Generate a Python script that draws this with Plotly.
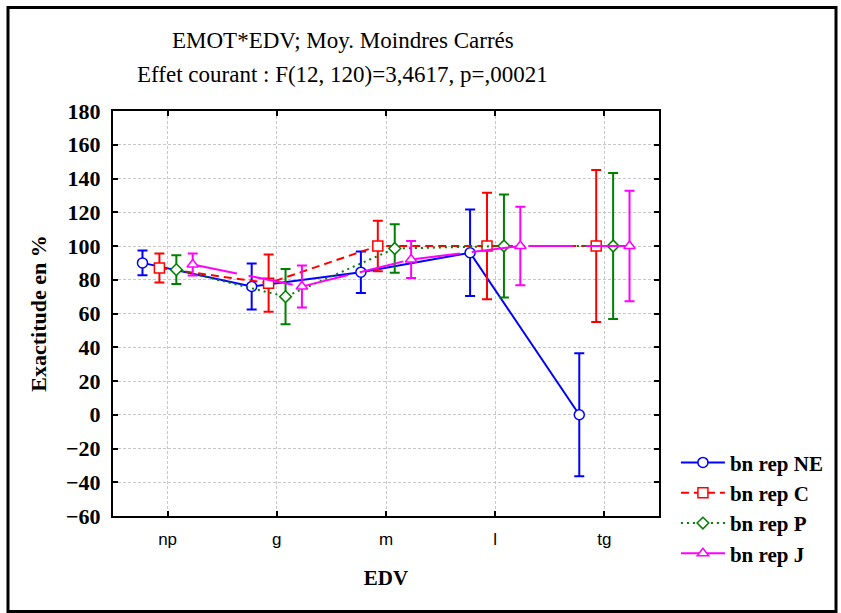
import plotly.graph_objects as go

categories = ["np", "g", "m", "l", "tg"]
series_names = ["bn rep NE", "bn rep C", "bn rep P", "bn rep J"]

ne_mean = [90, 76, 84.5, 96, 0]
ne_err = [7.3, 13.7, 12.3, 25.7, 36.5]
c_mean = [87, 78, 100, 100, 100]
c_err = [8.6, 17, 15, 31.6, 45]
p_mean = [86, 70, 98.5, 100, 100]
p_err = [8.5, 16.3, 14.4, 30.5, 43.3]
j_mean = [89, 76, 92, 100, 100]
j_err = [6.5, 12.5, 11, 23.2, 32.8]

y_ticks = list(range(-60, 181, 20))

styles = [
    dict(color="#0000FF", symbol="circle", size=10, dash="solid", off=-0.23),
    dict(color="#FF0000", symbol="square", size=10, dash="8px,5px", off=-0.075),
    dict(color="#008000", symbol="diamond", size=9, dash="2px,4px", off=0.08),
    dict(color="#FF00FF", symbol="triangle-up", size=10, dash="45px,12px", off=0.23),
]
means = [ne_mean, c_mean, p_mean, j_mean]
errs = [ne_err, c_err, p_err, j_err]

fig = go.Figure()
for name, m, e, st in zip(series_names, means, errs, styles):
    xs = [i + st["off"] for i in range(len(categories))]
    fig.add_trace(go.Scatter(
        x=xs, y=m, name=name, mode="lines+markers", legendgroup=name,
        line=dict(color=st["color"], width=2, dash=st["dash"]),
        marker=dict(symbol=st["symbol"], size=st["size"], color="white",
                    line=dict(color=st["color"], width=1.5)),
        error_y=dict(type="data", array=e, visible=True, color=st["color"],
                     thickness=2, width=5),
    ))

serif = "Liberation Serif, Times New Roman, serif"

fig.update_layout(
    width=841, height=613,
    margin=dict(l=113, r=182, t=111, b=97),
    paper_bgcolor="white", plot_bgcolor="white",
    showlegend=True,
    legend=dict(x=1.031, y=0.182, xanchor="left", yanchor="top",
                font=dict(family=serif, size=21, color="black", weight="bold"),
                itemwidth=44, tracegroupgap=0, traceorder="grouped",
                bgcolor="rgba(0,0,0,0)"),
    xaxis=dict(
        range=[-0.5, 4.5], tickmode="array",
        tickvals=list(range(len(categories))), ticktext=categories,
        showgrid=True, gridcolor="#c8c8c8", griddash="3px,2px", gridwidth=1,
        zeroline=False, showline=True, linecolor="black", linewidth=2, mirror="ticks",
        ticks="inside", ticklen=5, tickwidth=1.5, tickcolor="black",
        tickfont=dict(family="Liberation Sans, Arial, sans-serif", size=17, color="black"),
        ticklabelstandoff=7,
        title=dict(text="EDV", font=dict(family=serif, size=21, color="black", weight="bold"),
                   standoff=22),
    ),
    yaxis=dict(
        range=[-60, 180], tickmode="array", tickvals=y_ticks,
        showgrid=True, gridcolor="#c8c8c8", griddash="3px,2px", gridwidth=1,
        zeroline=False, showline=True, linecolor="black", linewidth=2, mirror="ticks",
        ticks="inside", ticklen=5, tickwidth=1.5, tickcolor="black",
        tickfont=dict(family=serif, size=22, color="black", weight="bold"),
        ticklabelstandoff=6,
        title=dict(text="Exactitude en %", font=dict(family=serif, size=22, color="black", weight="bold"),
                   standoff=13),
    ),
    annotations=[
        dict(text="EMOT*EDV; Moy. Moindres Carrés", xref="paper", yref="paper",
             x=0.421, y=1.175, xanchor="center", yanchor="middle", showarrow=False,
             font=dict(family=serif, size=23, color="black")),
        dict(text="Effet courant : F(12, 120)=3,4617, p=,00021", xref="paper", yref="paper",
             x=0.421, y=1.09, xanchor="center", yanchor="middle", showarrow=False,
             font=dict(family=serif, size=23, color="black")),
    ],
    shapes=[
        dict(type="rect", xref="paper", yref="paper",
             x0=(8 - 113) / 546, x1=(836 - 113) / 546,
             y0=(516 - 611.5) / 405, y1=(516 - 7.5) / 405,
             line=dict(color="black", width=3), fillcolor="rgba(0,0,0,0)", layer="below"),
    ],
)

fig.write_html("out.html")
